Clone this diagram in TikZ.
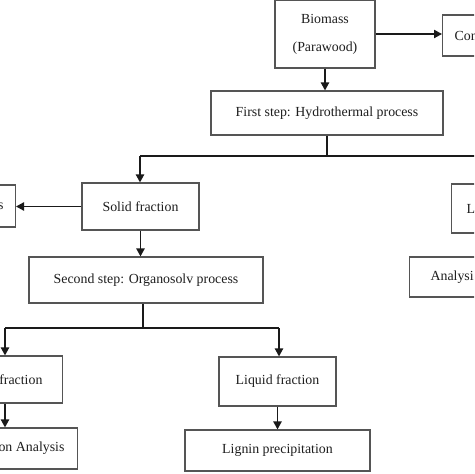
\documentclass[tikz,border=0pt]{standalone}
\usepackage{fontspec}
\setmainfont{Liberation Serif}
\usetikzlibrary{arrows.meta}
\definecolor{boxgray}{HTML}{555555}
\definecolor{linecol}{HTML}{1A1A1A}
\definecolor{txt}{HTML}{1E1E1E}
\begin{document}
\begin{tikzpicture}[x=0.75pt,y=-0.75pt,
  box/.style={draw=boxgray, line width=0.85pt, inner sep=0pt, fill=white,
    font=\fontsize{10.4}{12.4}\selectfont, text=txt},
  conn/.style={draw=linecol, line width=1.1pt},
  arr/.style={conn, -{Triangle[length=6pt,width=6.2pt]}}]
\useasboundingbox (0,0) rectangle (474,474);
\clip (0,0) rectangle (474,474);
\fill[white] (0,0) rectangle (474,474);

% nodes
\node[box, minimum width=75pt, minimum height=51pt, align=center] (bio) at (325,34) {Biomass\\[8.5pt](Parawood)};
\node[box, anchor=west, minimum height=30.75pt, inner xsep=9pt] (com) at (442,35.5) {Com};
\node[box, minimum width=174pt, minimum height=33pt] (first) at (327,113) {First step: Hydrothermal process};
\node[box, minimum width=87.75pt, minimum height=35.25pt] (solid) at (140.5,206.5) {Solid fraction};
\node[box, anchor=east, minimum height=31.5pt, inner xsep=9pt] (lefts) at (16,206) {s};
\node[box, minimum width=175.5pt, minimum height=34.5pt] (second) at (146,280) {Second step: Organosolv process};
\node[box, anchor=west, minimum height=36.75pt, inner xsep=11.25pt] (lbox) at (451,208.5) {L};
\node[box, anchor=west, minimum height=30pt, inner xsep=15.75pt] (anal) at (409,277) {Analysi};
\node[box, anchor=east, minimum height=35.25pt, inner xsep=15pt] (fracl) at (63,379.5) {fraction};
\node[box, minimum width=87.75pt, minimum height=36.75pt] (liquid) at (277.5,381.5) {Liquid fraction};
\node[box, anchor=east, minimum height=30.75pt, inner xsep=9.75pt] (botl) at (78,448.5) {on Analysis};
\node[box, minimum width=138.75pt, minimum height=30.75pt] (lignin) at (277.5,450.5) {Lignin precipitation};

% connectors
\draw[arr] (bio.east) -- (bio.east -| com.west);
\draw[arr] (bio.south) -- (bio.south |- first.north);

\coordinate (j1) at (327,156);
\coordinate (hl) at (140,156);
\coordinate (hr) at (480,156);
\draw[conn] (first.south) -- (j1);
\draw[conn] (hl) -- (hr);
\draw[arr] (hl) -- (hl |- solid.north);

\draw[arr] (solid.west) -- (solid.west -| lefts.east);
\draw[arr] (solid.south) -- (solid.south |- second.north);

\coordinate (j2) at (143,328);
\coordinate (sl) at (5,328);
\coordinate (sr) at (279,328);
\draw[conn] (j2 |- second.south) -- (j2);
\draw[conn] (sl) -- (sr);
\draw[arr] (sl) -- (sl |- fracl.north);
\draw[arr] (sr) -- (sr |- liquid.north);
\draw[arr] (sl |- fracl.south) -- (sl |- botl.north);
\draw[arr] (liquid.south) -- (liquid.south |- lignin.north);
\end{tikzpicture}
\end{document}
